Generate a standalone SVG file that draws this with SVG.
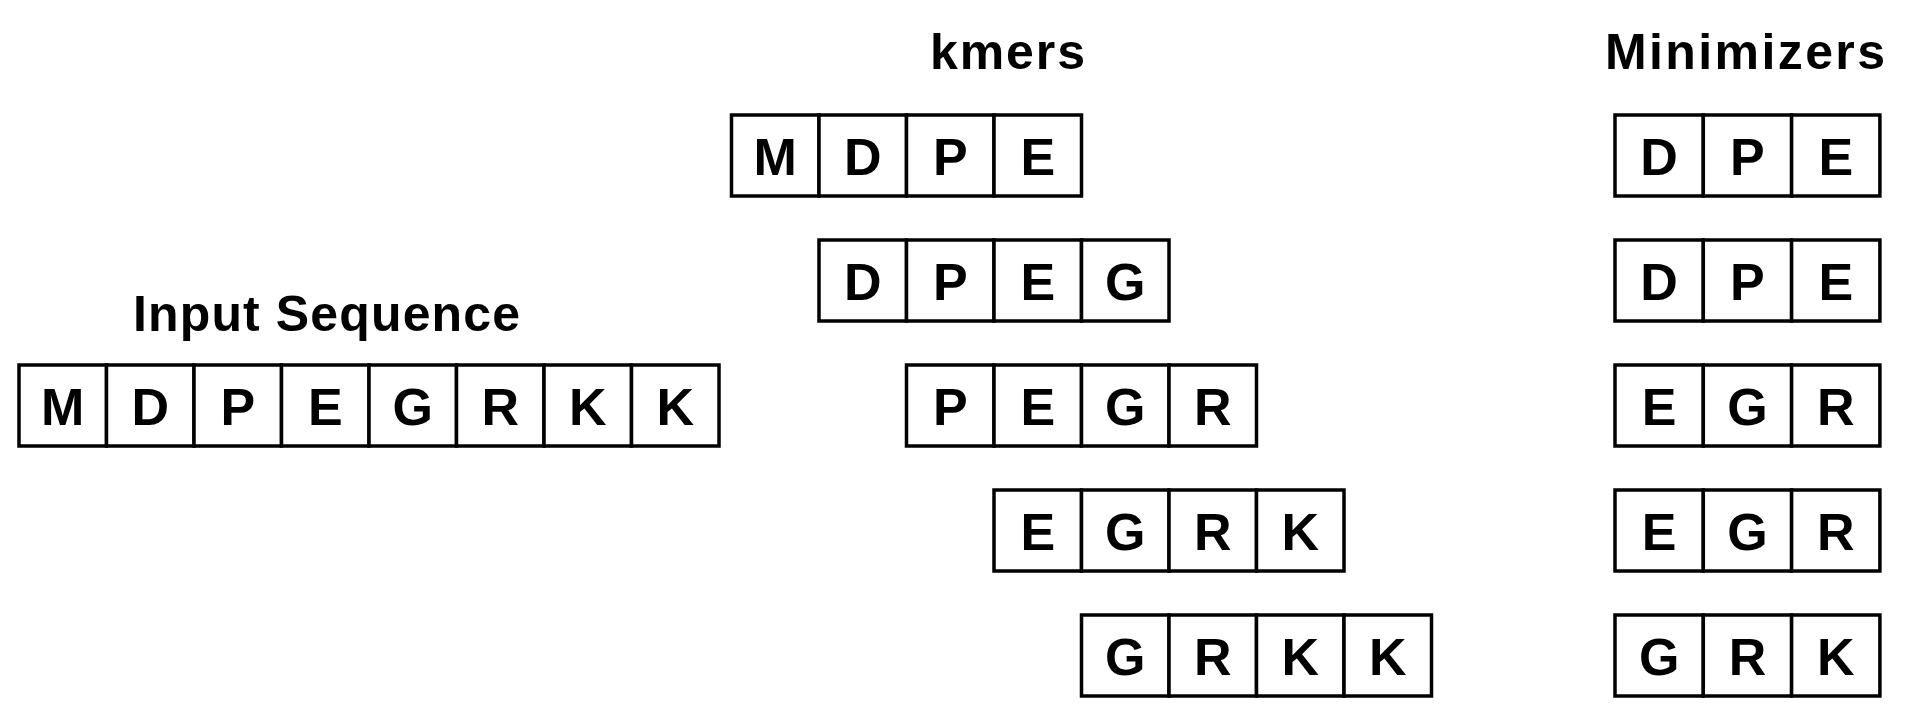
<svg xmlns="http://www.w3.org/2000/svg" width="1906" height="724" viewBox="0 0 1906 724">
<style>
.c{fill:#fff;stroke:#000;stroke-width:3.5}
.l{font-family:"Liberation Sans",Arial,sans-serif;font-weight:bold;font-size:52px;text-anchor:middle;fill:#000}
.h{font-family:"Liberation Sans",Arial,sans-serif;font-weight:bold;font-size:50px;fill:#000}
</style>
<rect width="1906" height="724" fill="#fff"/>
<g id="titles">
<text class="h" x="133" y="331" textLength="387" lengthAdjust="spacing">Input Sequence</text>
<text class="h" x="930" y="69" textLength="155" lengthAdjust="spacing">kmers</text>
<text class="h" x="1605" y="69" textLength="280" lengthAdjust="spacing">Minimizers</text>
</g>
<g id="input">
<rect class="c" x="19" y="365" width="87.5" height="81"/><text class="l" x="62.75" y="424.5">M</text>
<rect class="c" x="106.5" y="365" width="87.5" height="81"/><text class="l" x="150.25" y="424.5">D</text>
<rect class="c" x="194" y="365" width="87.5" height="81"/><text class="l" x="237.75" y="424.5">P</text>
<rect class="c" x="281.5" y="365" width="87.5" height="81"/><text class="l" x="325.25" y="424.5">E</text>
<rect class="c" x="369" y="365" width="87.5" height="81"/><text class="l" x="412.75" y="424.5">G</text>
<rect class="c" x="456.5" y="365" width="87.5" height="81"/><text class="l" x="500.25" y="424.5">R</text>
<rect class="c" x="544" y="365" width="87.5" height="81"/><text class="l" x="587.75" y="424.5">K</text>
<rect class="c" x="631.5" y="365" width="87.5" height="81"/><text class="l" x="675.25" y="424.5">K</text>
</g>
<g id="kmer1">
<rect class="c" x="731.5" y="115" width="87.5" height="81"/><text class="l" x="775.25" y="174.5">M</text>
<rect class="c" x="819" y="115" width="87.5" height="81"/><text class="l" x="862.75" y="174.5">D</text>
<rect class="c" x="906.5" y="115" width="87.5" height="81"/><text class="l" x="950.25" y="174.5">P</text>
<rect class="c" x="994" y="115" width="87.5" height="81"/><text class="l" x="1037.75" y="174.5">E</text>
</g>
<g id="kmer2">
<rect class="c" x="819" y="240" width="87.5" height="81"/><text class="l" x="862.75" y="299.5">D</text>
<rect class="c" x="906.5" y="240" width="87.5" height="81"/><text class="l" x="950.25" y="299.5">P</text>
<rect class="c" x="994" y="240" width="87.5" height="81"/><text class="l" x="1037.75" y="299.5">E</text>
<rect class="c" x="1081.5" y="240" width="87.5" height="81"/><text class="l" x="1125.25" y="299.5">G</text>
</g>
<g id="kmer3">
<rect class="c" x="906.5" y="365" width="87.5" height="81"/><text class="l" x="950.25" y="424.5">P</text>
<rect class="c" x="994" y="365" width="87.5" height="81"/><text class="l" x="1037.75" y="424.5">E</text>
<rect class="c" x="1081.5" y="365" width="87.5" height="81"/><text class="l" x="1125.25" y="424.5">G</text>
<rect class="c" x="1169" y="365" width="87.5" height="81"/><text class="l" x="1212.75" y="424.5">R</text>
</g>
<g id="kmer4">
<rect class="c" x="994" y="490" width="87.5" height="81"/><text class="l" x="1037.75" y="549.5">E</text>
<rect class="c" x="1081.5" y="490" width="87.5" height="81"/><text class="l" x="1125.25" y="549.5">G</text>
<rect class="c" x="1169" y="490" width="87.5" height="81"/><text class="l" x="1212.75" y="549.5">R</text>
<rect class="c" x="1256.5" y="490" width="87.5" height="81"/><text class="l" x="1300.25" y="549.5">K</text>
</g>
<g id="kmer5">
<rect class="c" x="1081.5" y="615" width="87.5" height="81"/><text class="l" x="1125.25" y="674.5">G</text>
<rect class="c" x="1169" y="615" width="87.5" height="81"/><text class="l" x="1212.75" y="674.5">R</text>
<rect class="c" x="1256.5" y="615" width="87.5" height="81"/><text class="l" x="1300.25" y="674.5">K</text>
<rect class="c" x="1344" y="615" width="87.5" height="81"/><text class="l" x="1387.75" y="674.5">K</text>
</g>
<g id="min1">
<rect class="c" x="1615" y="115" width="88.3" height="81"/><text class="l" x="1659.15" y="174.5">D</text>
<rect class="c" x="1703.3" y="115" width="88.3" height="81"/><text class="l" x="1747.45" y="174.5">P</text>
<rect class="c" x="1791.6" y="115" width="88.3" height="81"/><text class="l" x="1835.75" y="174.5">E</text>
</g>
<g id="min2">
<rect class="c" x="1615" y="240" width="88.3" height="81"/><text class="l" x="1659.15" y="299.5">D</text>
<rect class="c" x="1703.3" y="240" width="88.3" height="81"/><text class="l" x="1747.45" y="299.5">P</text>
<rect class="c" x="1791.6" y="240" width="88.3" height="81"/><text class="l" x="1835.75" y="299.5">E</text>
</g>
<g id="min3">
<rect class="c" x="1615" y="365" width="88.3" height="81"/><text class="l" x="1659.15" y="424.5">E</text>
<rect class="c" x="1703.3" y="365" width="88.3" height="81"/><text class="l" x="1747.45" y="424.5">G</text>
<rect class="c" x="1791.6" y="365" width="88.3" height="81"/><text class="l" x="1835.75" y="424.5">R</text>
</g>
<g id="min4">
<rect class="c" x="1615" y="490" width="88.3" height="81"/><text class="l" x="1659.15" y="549.5">E</text>
<rect class="c" x="1703.3" y="490" width="88.3" height="81"/><text class="l" x="1747.45" y="549.5">G</text>
<rect class="c" x="1791.6" y="490" width="88.3" height="81"/><text class="l" x="1835.75" y="549.5">R</text>
</g>
<g id="min5">
<rect class="c" x="1615" y="615" width="88.3" height="81"/><text class="l" x="1659.15" y="674.5">G</text>
<rect class="c" x="1703.3" y="615" width="88.3" height="81"/><text class="l" x="1747.45" y="674.5">R</text>
<rect class="c" x="1791.6" y="615" width="88.3" height="81"/><text class="l" x="1835.75" y="674.5">K</text>
</g>
<g id="connectors"></g>
</svg>
